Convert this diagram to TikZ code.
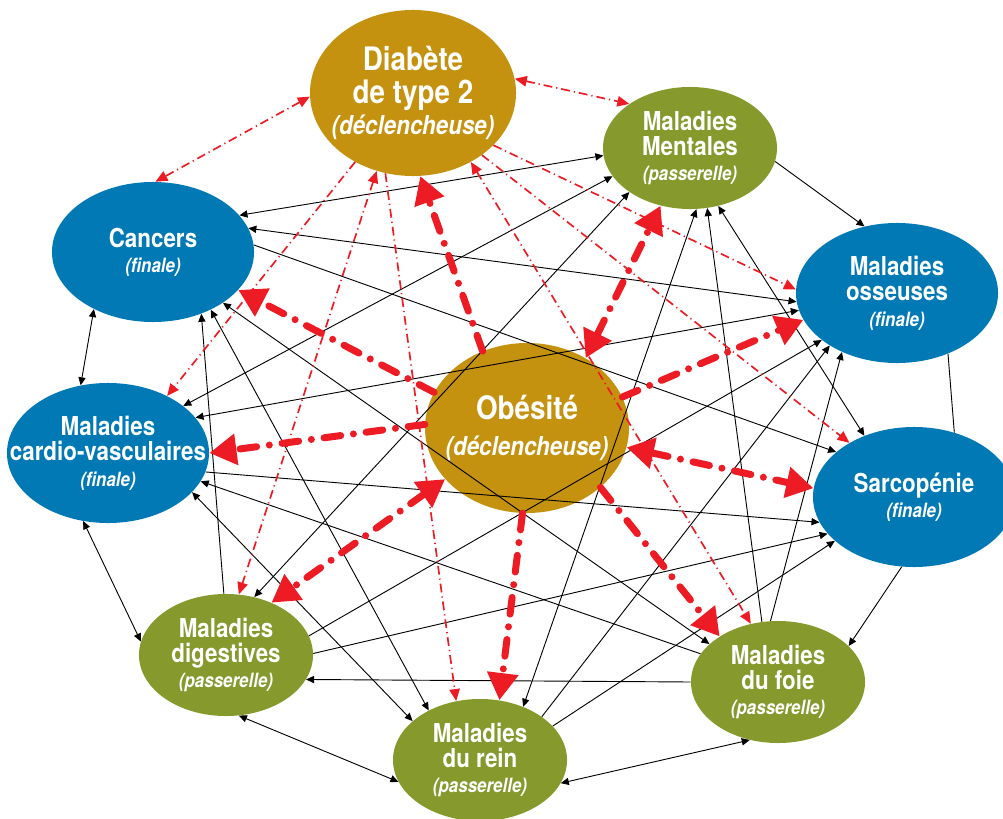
\documentclass[tikz,border=0pt]{standalone}
\usepackage{fontspec}
\setmainfont{TeX Gyre Heros}[FakeStretch=0.86]
\usepackage{xcolor}
\usetikzlibrary{arrows.meta,shapes.geometric}
\definecolor{orD}{HTML}{C4920E}
\definecolor{bleuF}{HTML}{0079B5}
\definecolor{vertP}{HTML}{85992C}
\definecolor{rougeL}{HTML}{ED1C24}
\newcommand{\role}[1]{{\fontsize{14}{18}\selectfont\itshape(#1)}}
\newcommand{\roleG}[1]{{\fontsize{18.5}{22}\selectfont\itshape(#1)}}

\begin{document}
\begin{tikzpicture}[x=0.025cm, y=-0.025cm,
		ell/.style={ellipse, inner sep=0pt},
		declench/.style={ell, fill=orD, minimum width=5.15cm, minimum height=4.15cm},
		finale/.style={ell, fill=bleuF, minimum width=5.05cm, minimum height=3.5cm},
		passer/.style={ell, fill=vertP, minimum width=4.35cm, minimum height=3.05cm},
		txt/.style={align=center, text=white, inner sep=0pt, font=\fontsize{18.5}{18}\selectfont\bfseries},
		txtbig/.style={txt, font=\fontsize{23}{24}\selectfont\bfseries},
		blk/.style={-{Triangle[length=2mm,width=1.8mm]}, line width=0.65pt},
		blk2/.style={{Triangle[length=2mm,width=1.8mm]}-{Triangle[length=2mm,width=1.8mm]}, line width=0.65pt},
		rfin/.style={-{Triangle[length=3mm,width=2.6mm]}, rougeL, line width=1.2pt, dash pattern=on 2.2mm off 1mm on 0.3mm off 1mm},
		rfin2/.style={{Triangle[length=3mm,width=2.6mm]}-{Triangle[length=3mm,width=2.6mm]}, rougeL, line width=1.2pt, dash pattern=on 2.2mm off 1mm on 0.3mm off 1mm},
		rgros/.style={-{Triangle[length=6.8mm,width=7.5mm]}, rougeL, line width=1.75mm, line cap=round, dash pattern=on 4.2mm off 3.2mm on 0mm off 3.2mm},
		rgros2/.style={{Triangle[length=6.8mm,width=7.5mm]}-{Triangle[length=6.8mm,width=7.5mm]}, rougeL, line width=1.75mm, line cap=round, dash pattern=on 4.2mm off 3.2mm on 0mm off 3.2mm}]
	
	\useasboundingbox (0,0) rectangle (1003,819);
	
	% maladies declencheuses
	\node[declench] (D) at (413,93) {};
	\node[declench, minimum width=5.1cm, minimum height=4.25cm] (O) at (527,428) {};
	% maladies finales
	\node[finale] (C) at (153,252) {};
	\node[finale] (MO) at (897,293) {};
	\node[finale] (CV) at (108,453) {};
	\node[finale] (S) at (914,497) {};
	% maladies passerelles
	\node[passer] (MM) at (690,148) {};
	\node[passer] (MD) at (226,655) {};
	\node[passer] (MR) at (480,760) {};
	\node[passer] (MF) at (778,682) {};
	
	\node[txtbig] (Dt) at (D) {Diabète\\de type 2\\[-2pt]\roleG{déclencheuse}};
	\node[txtbig] (Ot) at (O) {Obésité\\[2pt]\roleG{déclencheuse}};
	\node[txt] (Ct) at (C) {Cancers\\\role{finale}};
	\node[txt] (MOt) at (MO) {Maladies\\osseuses\\\role{finale}};
	\node[txt] (CVt) at (CV) {Maladies\\cardio-vasculaires\\\role{finale}};
	\node[txt] (St) at (S) {Sarcopénie\\\role{finale}};
	\node[txt] (MMt) at (MM) {Maladies\\Mentales\\\role{passerelle}};
	\node[txt] (MDt) at (MD) {Maladies\\digestives\\\role{passerelle}};
	\node[txt] (MRt) at (MR) {Maladies\\du rein\\\role{passerelle}};
	\node[txt] (MFt) at (MF) {Maladies\\du foie\\\role{passerelle}};
	
	% liens entre maladies
	\path[blk]
	(MD.92) edge (C.-52)
	(C.4) edge (S.150)
	(MF.160) edge (CV.-17)
	(CV.-11) edge (S.195)
	(MF.180) edge (MD.-17)
	(MD.13) edge (MO.212)
	(MD.1) edge (S.203)
	(MR.35) edge (MO.218)
	(MR.25) edge (S.209)
	(MF.105) edge (MM.286)
	(MF.97) edge (MO.227)
	(S.260) edge (MF.27)
	(MM.-9) edge (MO.116)
	;
	\draw[line width=0.65pt] (MO.-50) -- (S.58);
	
	\path[blk2]
	(C.-136) edge (CV.112)
	(C.-45) edge (MR.136)
	(C.-36) edge (MF.151)
	(C.14) edge (MO.185)
	(C.23) edge (MM.185)
	(CV.250) edge (MD.171)
	(CV.-25) edge (MR.150)
	(CV.22) edge (MO.190)
	(CV.32) edge (MM.200)
	(MD.-78) edge (MR.195)
	(MD.64) edge (MM.216)
	(MR.-16) edge (MF.244)
	(MR.51) edge (MM.276)
	(MM.296) edge (S.129)
	;
	
	% diabete
	\path[rfin]
	(D.230) edge (CV.44)
	(D.251) edge (MR.112)
	(D.318) edge (S.140)
	(D.327) edge (MO.178)
	;
	\path[rfin2]
	(D.182) edge (C.88)
	(D.8) edge (MM.144)
	(D.245) edge (MD.78)
	(D.310) edge (MF.115)
	;
	
	% obesite
	\path[rgros]
	(O.120) edge (D.275)
	(O.159) edge (C.-24)
	(O.178) edge (CV.0)
	(O.18) edge (MO.196)
	(O.-39) edge (MF.142)
	(O.267) edge (MR.72)
	;
	\path[rgros2]
	(O.50) edge (MM.243)
	(O.-11) edge (S.175)
	(O.212) edge (MD.49)
	;
\end{tikzpicture}
\end{document}
